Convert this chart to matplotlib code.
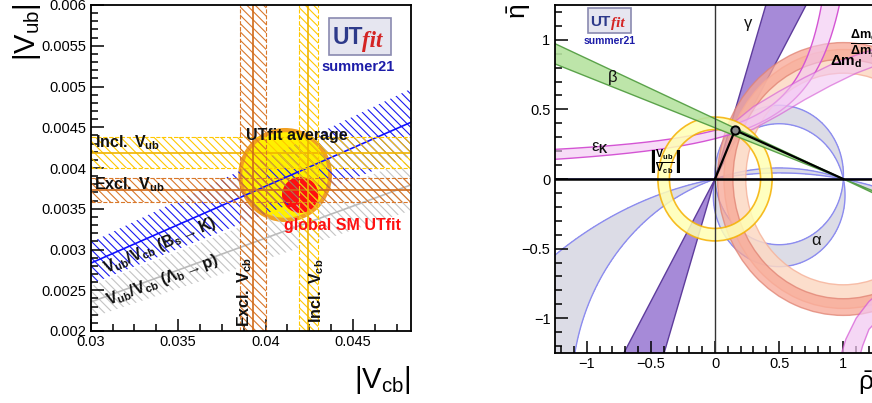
import numpy as np
import matplotlib
matplotlib.use("Agg")
import matplotlib.pyplot as plt
from matplotlib.patches import Ellipse, Annulus, Rectangle, Polygon
from matplotlib.ticker import MultipleLocator, FuncFormatter

plt.rcParams['font.family'] = ['Liberation Sans', 'DejaVu Sans']
plt.rcParams['mathtext.fontset'] = 'custom'
plt.rcParams['mathtext.rm'] = 'Liberation Sans'
plt.rcParams['mathtext.it'] = 'Liberation Sans:italic'
plt.rcParams['mathtext.bf'] = 'Liberation Sans:bold'
plt.rcParams['hatch.linewidth'] = 0.8

# ---- left panel: |Vcb| vs |Vub| ----
vcb_lim = [0.03, 0.0483]
vub_lim = [0.002, 0.006]
vcb_excl = [0.03928, 0.00074]   # centre, half width
vcb_incl = [0.04245, 0.00053]
vub_incl = [0.00419, 0.00019]
vub_excl = [0.00373, 0.000143]
ratio_bsk = [0.0944, 0.0085]    # Vub/Vcb from Bs -> K
ratio_lbp = [0.0785, 0.0065]    # Vub/Vcb from Lb -> p
avg_center = [0.04112, 0.003914]
avg_axes95 = [0.00268, 0.000577]
avg_axes68 = [0.00245, 0.000525]
sm_center = [0.04198, 0.003669]
sm_axes = [0.00104, 0.00022]

# ---- right panel: rho-bar vs eta-bar ----
rho_lim = [-1.25, 1.25]
eta_lim = [-1.25, 1.25]
apex = [0.156, 0.351]
gamma_deg = [60.4, 72.4]
beta_deg = [20.2, 23.4]
alpha_deg = [[86.7, 103.1], [162.0, 170.0]]
vubvcb_r = [0.355, 0.445]
dmd_r = [0.76, 0.93]
dms_r = [0.86, 0.98]
# eps_K edges, eta = k / (a - rho) + c  ->  [a, k, c]
epsk_edges = [[1.064, 0.270, 0.096], [1.272, 0.381, -0.010]]
# second pink band
pink2_upper = [(0.10, 0.37), (0.3, 0.52), (0.5, 0.63), (0.7, 0.73), (0.9, 0.82), (1.1, 0.89), (1.3, 0.95)]
pink2_lower = [(1.3, 0.83), (1.1, 0.76), (0.9, 0.67), (0.7, 0.57), (0.5, 0.46), (0.3, 0.36), (0.18, 0.32)]
pink3_left = [(0.97, -1.3), (1.02, -1.15), (1.1, -1.0), (1.2, -0.88), (1.3, -0.80)]
pink3_right = [(1.3, -0.98), (1.2, -1.08), (1.15, -1.2), (1.12, -1.3)]

W, H = 872, 403
fig = plt.figure(figsize=(W / 100, H / 100), dpi=100)


def px(x, y):
    return (x / W, 1 - y / H)


def g_fmt(v, pos):
    s = '%g' % v
    return s.replace('-', '\u2212')


ax1 = fig.add_axes([90.7 / W, 1 - 331 / H, 320 / W, 326 / H])
ax1.set_xlim(vcb_lim)
ax1.set_ylim(vub_lim)

# fit contours
ax1.add_patch(Ellipse(avg_center, 2 * avg_axes95[0], 2 * avg_axes95[1], fc='#f2a020', ec='none', zorder=1))
ax1.add_patch(Ellipse(avg_center, 2 * avg_axes68[0], 2 * avg_axes68[1], fc='#fff000', ec='none', zorder=1))
ax1.add_patch(Ellipse(sm_center, 2 * sm_axes[0], 2 * sm_axes[1], fc='#ff1010', ec='none', zorder=1))

xs = np.array(vcb_lim)
ys = np.array(vub_lim)
HATCH = '\\\\\\\\'


def hband(ax, c, w, col, lcol):
    ax.fill_between(xs, c - w, c + w, facecolor='none', edgecolor=col, hatch=HATCH, linewidth=0, zorder=3)
    ax.plot(xs, [c - w] * 2, color=col, lw=0.8, ls='--', zorder=3)
    ax.plot(xs, [c + w] * 2, color=col, lw=0.8, ls='--', zorder=3)
    ax.plot(xs, [c, c], color=lcol, lw=1.2, zorder=3)


def vband(ax, c, w, col, lcol):
    ax.fill_betweenx(ys, c - w, c + w, facecolor='none', edgecolor=col, hatch=HATCH, linewidth=0, zorder=3)
    ax.plot([c - w] * 2, ys, color=col, lw=0.8, ls='--', zorder=3)
    ax.plot([c + w] * 2, ys, color=col, lw=0.8, ls='--', zorder=3)
    ax.plot([c, c], ys, color=lcol, lw=1.2, zorder=3)


def rband(ax, r, w, col, lcol):
    ax.fill_between(xs, (r - w) * xs, (r + w) * xs, facecolor='none', edgecolor=col, hatch=HATCH, linewidth=0, zorder=2)
    ax.plot(xs, r * xs, color=lcol, lw=1.2, zorder=2)


rband(ax1, ratio_lbp[0], ratio_lbp[1], '#c4c4c4', '#bbbbbb')
rband(ax1, ratio_bsk[0], ratio_bsk[1], '#1a1af0', '#1010ff')
hband(ax1, vub_excl[0], vub_excl[1], '#d9782a', '#d06a18')
hband(ax1, vub_incl[0], vub_incl[1], '#ffc800', '#f0b400')
vband(ax1, vcb_excl[0], vcb_excl[1], '#d9782a', '#d06a18')
vband(ax1, vcb_incl[0], vcb_incl[1], '#ffc800', '#f0b400')

tk = dict(fontsize=11.5, color='#111111', zorder=6)
ax1.text(0.03025, 0.00431, r'$\mathbf{Incl.\ V_{ub}}$', ha='left', va='center', **tk)
ax1.text(0.03020, 0.00379, r'$\mathbf{Excl.\ V_{ub}}$', ha='left', va='center', **tk)
ax1.text(0.04178, 0.00440, 'UTfit average', ha='center', va='center', fontweight='bold', **tk)
ax1.text(0.04438, 0.00329, 'global SM UTfit', ha='center', va='center', fontsize=11.5,
         fontweight='bold', color='#ff1010', zorder=6)
ax1.text(0.03879, 0.00248, r'$\mathbf{Excl.\ V_{cb}}$', rotation=90, ha='center', va='center', **tk)
ax1.text(0.04293, 0.00250, r'$\mathbf{Incl.\ V_{cb}}$', rotation=90, ha='center', va='center', **tk)
ax1.text(0.03395, 0.00305, r'$\mathbf{V_{ub}/V_{cb}\ (B_s \rightarrow K)}$', rotation=23,
         rotation_mode='anchor', ha='center', va='center', **tk)
ax1.text(0.03410, 0.00262, r'$\mathbf{V_{ub}/V_{cb}\ (\Lambda_b \rightarrow p)}$', rotation=20.5,
         rotation_mode='anchor', ha='center', va='center', **tk)

ax1.xaxis.set_major_locator(MultipleLocator(0.005))
ax1.xaxis.set_minor_locator(MultipleLocator(0.00125))
ax1.yaxis.set_major_locator(MultipleLocator(0.0005))
ax1.yaxis.set_minor_locator(MultipleLocator(0.0001))
ax1.xaxis.set_major_formatter(FuncFormatter(g_fmt))
ax1.yaxis.set_major_formatter(FuncFormatter(g_fmt))

# ---- right panel ----
ax2 = fig.add_axes([554.6 / W, 1 - 353 / H, 320.8 / W, 348 / H])
ax2.set_xlim(rho_lim)
ax2.set_ylim(eta_lim)

# alpha from the angle seen at (rho, eta), folded mod 180
rr, ee = np.meshgrid(np.linspace(-1.3, 1.3, 1400), np.linspace(-1.3, 1.3, 1400))
v1 = np.hypot(rr, ee)
v2 = np.hypot(1 - rr, ee)
cosang = (-rr * (1 - rr) + ee * ee) / (v1 * v2)
theta = np.degrees(np.arccos(np.clip(cosang, -1, 1)))
amod = np.where(ee >= 0, theta, 180 - theta)
mask = np.zeros_like(amod)
for lo, hi in alpha_deg:
    mask[(amod >= lo) & (amod <= hi)] = 1
ax2.contourf(rr, ee, mask, levels=[0.5, 1.5], colors=['#dcdce6'], zorder=1)
ax2.contour(rr, ee, amod, levels=sorted(sum(alpha_deg, [])), colors=['#8c8cf0'], linewidths=1, zorder=1)

# gamma
L = 4
g = np.radians(gamma_deg)
for s in (1, -1):
    ax2.add_patch(Polygon([(0, 0), (s * L * np.cos(g[0]), s * L * np.sin(g[0])),
                           (s * L * np.cos(g[1]), s * L * np.sin(g[1]))],
                          fc='#a68ad8', ec='#5e3c9c', lw=1, zorder=2))

# Delta m rings
ax2.add_patch(Annulus((1, 0), dmd_r[1], dmd_r[1] - dmd_r[0], fc='#fcd9c4', ec='#f6b49c', lw=1, alpha=0.85, zorder=3))
ax2.add_patch(Annulus((1, 0), dms_r[1], dms_r[1] - dms_r[0], fc='#f7a694', ec='#e08272', lw=1, alpha=0.75, zorder=3))

# eps_K
rk = np.linspace(-1.3, 0.99, 600)
e_up = np.minimum(epsk_edges[0][1] / (epsk_edges[0][0] - rk) + epsk_edges[0][2], 3)
e_lo = epsk_edges[1][1] / (epsk_edges[1][0] - rk) + epsk_edges[1][2]
ax2.fill_between(rk, e_lo, e_up, facecolor='#f2c6f2', edgecolor='none', alpha=0.6, zorder=4)
ax2.plot(rk, e_up, color='#d455d4', lw=1, zorder=4)
ax2.plot(rk, e_lo, color='#d455d4', lw=1, zorder=4)
ax2.add_patch(Polygon(pink2_upper + pink2_lower, fc='#f2c6f2', ec='#d455d4', lw=1, alpha=0.6, zorder=4))
ax2.add_patch(Polygon(pink3_left + pink3_right, fc='#f2c6f2', ec='#d455d4', lw=1, alpha=0.7, zorder=4))

# |Vub/Vcb|
ax2.add_patch(Annulus((0, 0), vubvcb_r[1], vubvcb_r[1] - vubvcb_r[0], fc='#ffffb4', ec='#f5b000', lw=1.2, alpha=0.85, zorder=5))

# beta
b = np.radians(beta_deg)
for s in (1, -1):
    ax2.add_patch(Polygon([(1, 0), (1 - s * L * np.cos(b[0]), s * L * np.sin(b[0])),
                           (1 - s * L * np.cos(b[1]), s * L * np.sin(b[1]))],
                          fc='#b6e3a0', ec='#4d9a3c', lw=1, alpha=0.9, zorder=6))

ax2.axhline(0, color='black', lw=1.8, zorder=7)
ax2.axvline(0, color='#333333', lw=1.0, zorder=7)
ax2.plot([0, apex[0], 1], [0, apex[1], 0], color='black', lw=1.6, zorder=8)
ax2.plot([apex[0]], [apex[1]], 'o', mfc='#888888', mec='black', ms=6, mew=1.4, zorder=9)

gk = dict(fontsize=12, color='#111111', zorder=10)
ax2.text(0.26, 1.12, '\u03b3', ha='center', va='center', **gk)
ax2.text(-0.80, 0.73, '\u03b2', ha='center', va='center', **gk)
ax2.text(-0.90, 0.22, r'$\mathrm{\varepsilon}_{\mathbf{K}}$', ha='center', va='center', **gk)
ax2.text(0.79, -0.44, '\u03b1', ha='center', va='center', **gk)
ax2.text(-0.385, 0.12, r'$\mathbf{\left|\frac{V_{ub}}{V_{cb}}\right|}$', ha='center', va='center', fontsize=11, zorder=10)
ax2.text(1.05, 0.97, r'$\mathbf{\frac{\Delta m_d}{\Delta m_s}}$', ha='left', va='center', fontsize=13, zorder=10)
ax2.text(0.90, 0.84, r'$\mathbf{\Delta m_d}$', ha='left', va='center', fontsize=11, zorder=10)

ax2.xaxis.set_major_locator(MultipleLocator(0.5))
ax2.xaxis.set_minor_locator(MultipleLocator(0.1))
ax2.yaxis.set_major_locator(MultipleLocator(0.5))
ax2.yaxis.set_minor_locator(MultipleLocator(0.1))
ax2.xaxis.set_major_formatter(FuncFormatter(g_fmt))
ax2.yaxis.set_major_formatter(FuncFormatter(g_fmt))

for ax in (ax1, ax2):
    for sp in ax.spines.values():
        sp.set_linewidth(1.3)
        sp.set_zorder(12)
    ax.tick_params(which='both', direction='in', top=False, right=False, labelsize=10.5, pad=3, width=1.1)
    ax.tick_params(which='major', length=9)
    ax.tick_params(which='minor', length=5)
    ax.set_axisbelow(False)

# axis titles
fig.text(*px(27, 3), r'$|\mathrm{V}_{\mathrm{ub}}|$', rotation=90, ha='center', va='top', fontsize=21)
fig.text(*px(411, 396), r'$|\mathrm{V}_{\mathrm{cb}}|$', ha='right', va='bottom', fontsize=21)
fig.text(*px(519, 4), r'$\mathrm{\bar{\eta}}$', rotation=90, ha='center', va='top', fontsize=19)
fig.text(*px(858, 397), r'$\mathrm{\bar{\rho}}$', ha='left', va='bottom', fontsize=19)


def logo(x0, y0, w, h, size, sx, sy, ssize):
    fig.add_artist(Rectangle(px(x0, y0 + h), w / W, h / H, transform=fig.transFigure,
                             fc='#e6e6f0', ec='#8a8ab0', lw=1.2))
    fig.text(*px(x0 + 0.06 * w, y0 + 0.70 * h), 'UT', ha='left', va='baseline', fontsize=size,
             fontweight='bold', color='#2e3a8a')
    fig.text(*px(x0 + 0.53 * w, y0 + 0.78 * h), 'fit', ha='left', va='baseline', fontsize=size,
             fontweight='bold', fontstyle='italic', family=['Liberation Serif'], color='#d42424')
    fig.text(*px(sx, sy), 'summer21', ha='center', va='center', fontsize=ssize,
             fontweight='bold', color='#1c1ca8')


logo(329, 18, 62, 37, 16.5, 358, 67, 10.5)
logo(588, 8, 43, 25, 11, 610, 41, 7.5)

fig.savefig('out.png', dpi=100)
